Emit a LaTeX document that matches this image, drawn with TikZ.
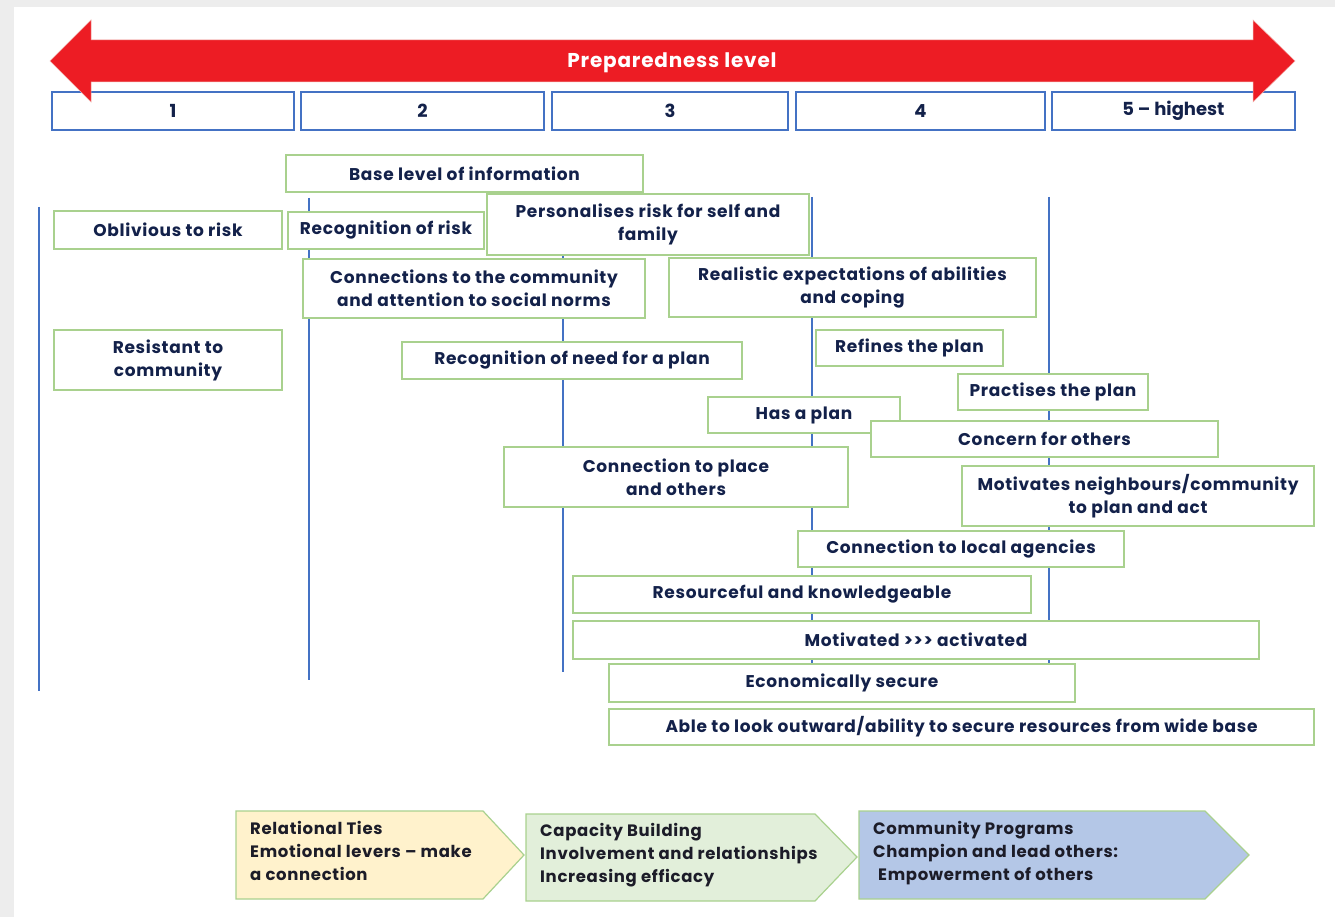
\documentclass[tikz,border=0pt]{standalone}
\usepackage{fontspec}
\setmainfont{Poppins}
\definecolor{navy}{HTML}{13214A}
\definecolor{gborder}{HTML}{A9D18E}
\definecolor{bblue}{HTML}{4472C4}
\definecolor{redarrow}{HTML}{ED1C24}
\definecolor{chevyellow}{HTML}{FFF2CC}
\definecolor{chevgreen}{HTML}{E2EFDA}
\definecolor{chevblue}{HTML}{B4C7E7}
\definecolor{chevtext}{HTML}{1C1C28}
\tikzset{
  gbox/.style={draw=gborder, line width=1.8pt, fill=white, text=navy,
    font=\fontsize{17}{23}\selectfont\bfseries\addfontfeature{LetterSpace=4},
    align=center, inner sep=0pt},
  numbox/.style={draw=bblue, line width=1.8pt, fill=white, text=navy,
    font=\fontsize{18}{20}\selectfont\bfseries, inner sep=0pt,
    minimum height=38pt},
  vline/.style={draw=bblue, line width=1.6pt},
  chev/.style={draw=gborder, line width=1.2pt},
  chevtxt/.style={text=chevtext,
    font=\fontsize{16.5}{23}\selectfont\bfseries\addfontfeature{LetterSpace=4},
    align=left, inner sep=0pt, anchor=north west}
}
\begin{document}
\begin{tikzpicture}[x=1pt,y=-1pt]
\useasboundingbox (0,0) rectangle (1335,917);
% background frame
\fill[black!7] (0,0) rectangle (1335,917);
\fill[white] (14,7) rectangle (1335,917);

% level boxes
\node[numbox, minimum width=242pt] (l1) at (173,111) {1};
\node[numbox, minimum width=243pt] (l2) at (422.5,111) {2};
\node[numbox, minimum width=236pt] (l3) at (670,111) {3};
\node[numbox, minimum width=249pt] (l4) at (920.5,111) {4};
\node[numbox, minimum width=243pt] (l5) at (1173.5,111) {5 -- highest};

% red double arrow
\path[fill=redarrow, draw=redarrow!70!brown!40, line width=0.5pt]
  (50,61) -- (91,20) -- (91,40) -- (1253,40) -- (1253,20) -- (1295,61)
  -- (1253,102) -- (1253,82) -- (91,82) -- (91,102) -- cycle;
\node[text=white, font=\fontsize{20}{22}\selectfont\bfseries\addfontfeature{LetterSpace=4}] (title) at (672,63) {Preparedness level};

% vertical lines
\coordinate (v1t) at (39,207);  \coordinate (v1b) at (39,691);
\coordinate (v2t) at (309,198); \coordinate (v2b) at (309,680);
\coordinate (v3t) at (563,255); \coordinate (v3b) at (563,672);
\coordinate (v4t) at (812,197); \coordinate (v4b) at (812,690);
\coordinate (v5t) at (1049,197); \coordinate (v5b) at (1049,690);
\draw[vline] (v1t) -- (v1b);
\draw[vline] (v2t) -- (v2b);
\draw[vline] (v3t) -- (v3b);
\draw[vline] (v4t) -- (v4b);
\draw[vline] (v5t) -- (v5b);

% green boxes
\node[gbox, minimum width=357pt, minimum height=37pt] (base) at (464.5,173.5) {Base level of information};
\node[gbox, minimum width=228pt, minimum height=38pt] (obliv) at (168,230) {Oblivious to risk};
\node[gbox, minimum width=196pt, minimum height=37pt] (recrisk) at (386,230.5) {Recognition of risk};
\node[gbox, minimum width=322pt, minimum height=61pt] (pers) at (648,224.5) {Personalises risk for self and\\family};
\node[gbox, minimum width=342pt, minimum height=59pt] (conn) at (474,288.5) {Connections to the community\\and attention to social norms};
\node[gbox, minimum width=367pt, minimum height=59pt] (real) at (852.5,287.5) {Realistic expectations of abilities\\and coping};
\node[gbox, minimum width=228pt, minimum height=60pt] (resist) at (168,360) {Resistant to\\community};
\node[gbox, minimum width=340pt, minimum height=37pt] (need) at (572,360.5) {Recognition of need for a plan};
\node[gbox, minimum width=187pt, minimum height=36pt] (refine) at (909.5,348) {Refines the plan};
\node[gbox, minimum width=190pt, minimum height=36pt] (pract) at (1053,392) {Practises the plan};
\node[gbox, minimum width=192pt, minimum height=36pt] (has) at (804,415) {Has a plan};
\node[gbox, minimum width=347pt, minimum height=36pt] (concern) at (1044.5,439) {Concern for others};
\node[gbox, minimum width=344pt, minimum height=60pt] (place) at (676,477) {Connection to place\\and others};
\node[gbox, minimum width=352pt, minimum height=60pt] (motiv) at (1138,496) {Motivates neighbours/community\\to plan and act};
\node[gbox, minimum width=326pt, minimum height=36pt] (local) at (961,549) {Connection to local agencies};
\node[gbox, minimum width=458pt, minimum height=37pt] (resource) at (802,594.5) {Resourceful and knowledgeable};
\node[gbox, minimum width=686pt, minimum height=38pt] (activ) at (916,640) {Motivated >{}>{}> activated};
\node[gbox, minimum width=466pt, minimum height=38pt] (econ) at (842,683) {Economically secure};
\node[gbox, minimum width=705pt, minimum height=36pt] (able) at (961.5,727) {Able to look outward/ability to secure resources from wide base};

% chevrons
\draw[chev, fill=chevyellow] (236,811) -- (483,811) -- (524,855) -- (483,899) -- (236,899) -- cycle;
\draw[chev, fill=chevgreen] (526,814) -- (815,814) -- (857,857) -- (815,901) -- (526,901) -- cycle;
\draw[chev, fill=chevblue] (859,811) -- (1205,811) -- (1249,855) -- (1205,899) -- (859,899) -- cycle;
\node[chevtxt] (yt) at (250,821) {Relational Ties\\Emotional levers -- make\\a connection};
\node[chevtxt] (gt) at (540,823) {Capacity Building\\Involvement and relationships\\Increasing efficacy};
\node[chevtxt] (bt) at (873,821) {Community Programs\\Champion and lead others:\\\hspace*{5pt}Empowerment of others};
\end{tikzpicture}
\end{document}
